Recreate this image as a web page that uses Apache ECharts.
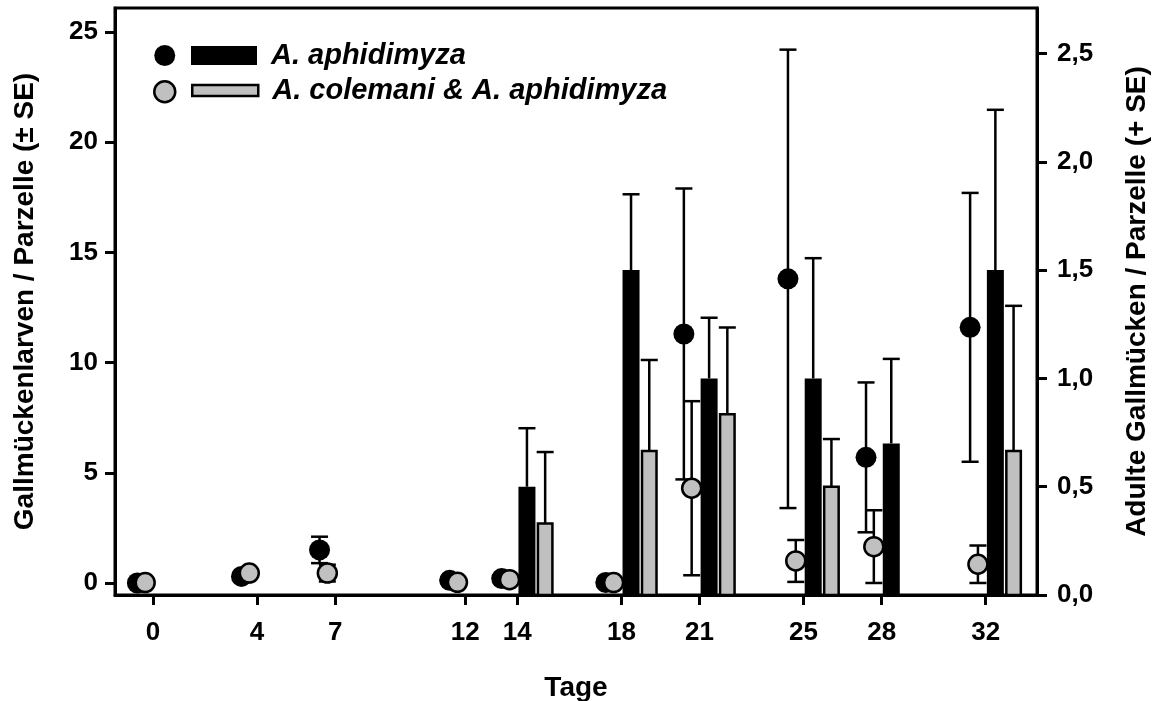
<!DOCTYPE html>
<html>
<head>
<meta charset="utf-8">
<script src="https://cdn.jsdelivr.net/npm/echarts@6/dist/echarts.min.js"></script>
<style>html,body{margin:0;padding:0;background:#fff}#c{width:1154px;height:701px}</style>
</head>
<body>
<div id="c"></div>
<script>
// ---- data ----
const days = [0, 4, 7, 12, 14, 18, 21, 25, 28, 32];
const xTickLabels = [0, 4, 7, 12, 14, 18, 21, 25, 28, 32];
const leftTicks = [0, 5, 10, 15, 20, 25];
const rightTicks = [0, 0.5, 1, 1.5, 2, 2.5];
// larvae per plot (left axis, ± SE)
const larvaeAphidimyza   = [0.0, 0.30, 1.50, 0.12, 0.20, 0.02, 11.3, 13.8, 5.7, 11.6];
const larvaeAphidimyzaSE = [0, 0, 0.60, 0, 0, 0, 6.6, 10.4, 3.4, 6.1];
const larvaeMixed        = [0.02, 0.45, 0.45, 0.03, 0.15, 0.02, 4.3, 1.0, 1.65, 0.85];
const larvaeMixedSE      = [0, 0, 0.38, 0, 0, 0, 3.95, 0.95, 1.65, 0.85];
// adults per plot (right axis, + SE)
const adultAphidimyza    = [0, 0, 0, 0, 0.50, 1.50, 1.00, 1.00, 0.70, 1.50];
const adultAphidimyzaSE  = [0, 0, 0, 0, 0.27, 0.35, 0.28, 0.555, 0.39, 0.74];
const adultMixed         = [0, 0, 0, 0, 0.33, 0.665, 0.835, 0.50, 0, 0.665];
const adultMixedSE       = [0, 0, 0, 0, 0.33, 0.42, 0.40, 0.22, 0, 0.67];
const nameA = 'A. aphidimyza';
const nameB = 'A. colemani & A. aphidimyza';

// ---- style constants ----
const FONT = 'Arial, "Liberation Sans", sans-serif';
const GRAY = '#c0c0c0';
const OFF_CIRCLE_A = -0.6, OFF_CIRCLE_B = -0.3, OFF_BAR_A = 0.37, OFF_BAR_B = 1.07;
const BAR_W = 17, CAP_W = 17, LW = 2.5;

const shift = (arr, off) => days.map((d, i) => [d + off, arr[i]]);
const shiftSE = (arr, se, off) => days.map((d, i) => [d + off, arr[i], se[i]]);

function errRender(params, api) {
  const x = api.value(0), v = api.value(1), se = api.value(2);
  if (!se) return;
  const pt = api.coord([x, v + se]);
  const pb = api.coord([x, v - se]);
  const st = {stroke: '#000', lineWidth: LW};
  return {type: 'group', children: [
    {type: 'line', shape: {x1: pt[0], y1: pt[1], x2: pb[0], y2: pb[1]}, style: st},
    {type: 'line', shape: {x1: pt[0] - CAP_W / 2, y1: pt[1], x2: pt[0] + CAP_W / 2, y2: pt[1]}, style: st},
    {type: 'line', shape: {x1: pb[0] - CAP_W / 2, y1: pb[1], x2: pb[0] + CAP_W / 2, y2: pb[1]}, style: st}
  ]};
}
function barRender(fill, border) {
  return function (params, api) {
    const x = api.value(0), v = api.value(1), se = api.value(2);
    if (!v) return;
    const p0 = api.coord([x, 0]);
    const p1 = api.coord([x, v]);
    const pe = api.coord([x, v + se]);
    const st = {stroke: '#000', lineWidth: LW};
    const w = BAR_W - border;
    return {type: 'group', children: [
      {type: 'line', shape: {x1: p1[0], y1: p1[1], x2: pe[0], y2: pe[1]}, style: st},
      {type: 'line', shape: {x1: pe[0] - CAP_W / 2, y1: pe[1], x2: pe[0] + CAP_W / 2, y2: pe[1]}, style: st},
      {type: 'rect', shape: {x: p1[0] - w / 2, y: p1[1], width: w, height: p0[1] - p1[1]},
       style: {fill: fill, stroke: border ? '#000' : null, lineWidth: border}}
    ]};
  };
}

const chart = echarts.init(document.getElementById('c'), null, {renderer: 'canvas'});
const labelStyle = {fontSize: 26, fontWeight: 'bold', color: '#000', fontFamily: FONT};
const nameStyle = {fontSize: 28, fontWeight: 'bold', color: '#000', fontFamily: FONT};
const legendText = {fontSize: 29, fontWeight: 'bold', fontStyle: 'italic', color: '#000', fontFamily: FONT, padding: [0, 0, 0, 9]};

chart.setOption({
  animation: false,
  grid: {left: 115, right: 117, top: 8, bottom: 106, show: true, borderColor: '#000', borderWidth: 3,
         containLabel: false, outerBoundsMode: 'none'},
  legend: [
    {left: 153, top: 45, orient: 'vertical', padding: 0, itemGap: 14, itemWidth: 21, itemHeight: 21, icon: 'circle',
     formatter: () => '', selectedMode: false,
     data: [{name: 'Larven ' + nameA, itemStyle: {color: '#000', borderWidth: 0}},
            {name: 'Larven ' + nameB, itemStyle: {color: GRAY, borderColor: '#000', borderWidth: 2.5}}]},
    {left: 191, top: 41, padding: 0, itemWidth: 66, itemHeight: 19, icon: 'rect', selectedMode: false,
     textStyle: legendText,
     data: [{name: nameA, itemStyle: {color: '#000', borderWidth: 0}}]},
    {left: 191, top: 76, padding: 0, itemWidth: 66, itemHeight: 11, icon: 'rect', selectedMode: false,
     textStyle: legendText,
     data: [{name: nameB, itemStyle: {color: GRAY, borderColor: '#000', borderWidth: 2.5}}]}
  ],
  xAxis: {
    type: 'value', min: -1.46, max: 33.97,
    name: 'Tage', nameLocation: 'middle', nameGap: 79, nameTextStyle: nameStyle,
    axisLine: {show: true, onZero: false, lineStyle: {color: '#000', width: 3}},
    axisTick: {show: true, inside: false, length: 10, lineStyle: {color: '#000', width: 3}, customValues: days},
    axisLabel: Object.assign({customValues: xTickLabels, margin: 25}, labelStyle),
    splitLine: {show: false}
  },
  yAxis: [
    {
      type: 'value', min: -0.545, max: 26.09, position: 'left',
      name: 'Gallmückenlarven / Parzelle (± SE)', nameLocation: 'middle', nameGap: 76, nameTextStyle: nameStyle,
      axisLine: {show: true, onZero: false, lineStyle: {color: '#000', width: 3}},
      axisTick: {show: true, length: 10, lineStyle: {color: '#000', width: 3}, customValues: leftTicks},
      axisLabel: Object.assign({customValues: leftTicks, margin: 17}, labelStyle),
      splitLine: {show: false}
    },
    {
      type: 'value', min: 0, max: 2.71, position: 'right',
      name: 'Adulte Gallmücken / Parzelle (+ SE)', nameLocation: 'middle', nameGap: 86, nameTextStyle: nameStyle,
      axisLine: {show: true, onZero: false, lineStyle: {color: '#000', width: 3}},
      axisTick: {show: true, length: 10, lineStyle: {color: '#000', width: 3}, customValues: rightTicks},
      axisLabel: Object.assign({customValues: rightTicks, margin: 20,
        formatter: v => Number(v).toFixed(1).replace('.', ',')}, labelStyle),
      splitLine: {show: false}
    }
  ],
  series: [
    {name: nameA, type: 'custom', xAxisIndex: 0, yAxisIndex: 1, itemStyle: {color: '#000'},
     renderItem: barRender('#000', 0), data: shiftSE(adultAphidimyza, adultAphidimyzaSE, OFF_BAR_A), z: 2},
    {name: nameB, type: 'custom', xAxisIndex: 0, yAxisIndex: 1, itemStyle: {color: GRAY},
     renderItem: barRender(GRAY, 2.5), data: shiftSE(adultMixed, adultMixedSE, OFF_BAR_B), z: 2},
    {name: 'errA', type: 'custom', yAxisIndex: 0, renderItem: errRender,
     data: shiftSE(larvaeAphidimyza, larvaeAphidimyzaSE, OFF_CIRCLE_A), z: 3},
    {name: 'errB', type: 'custom', yAxisIndex: 0, renderItem: errRender,
     data: shiftSE(larvaeMixed, larvaeMixedSE, OFF_CIRCLE_B), z: 3},
    {name: 'Larven ' + nameA, type: 'scatter', yAxisIndex: 0, symbol: 'circle', symbolSize: 21,
     itemStyle: {color: '#000', opacity: 1}, data: shift(larvaeAphidimyza, OFF_CIRCLE_A), z: 4},
    {name: 'Larven ' + nameB, type: 'scatter', yAxisIndex: 0, symbol: 'circle', symbolSize: 19,
     itemStyle: {color: GRAY, borderColor: '#000', borderWidth: 2.5, opacity: 1}, data: shift(larvaeMixed, OFF_CIRCLE_B), z: 5}
  ]
});
</script>
</body>
</html>
